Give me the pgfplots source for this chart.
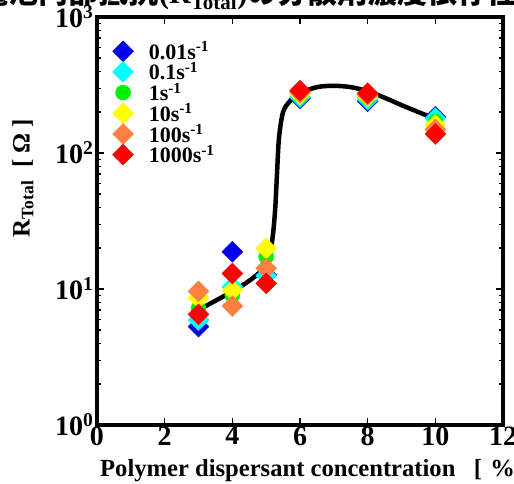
\documentclass[border=0pt]{standalone}
\usepackage{pgfplots}
\pgfplotsset{compat=1.18}
\usepackage{fontspec}
\setmainfont{Liberation Serif}
\newfontfamily\cjk{Noto Sans CJK JP}
\definecolor{cBlue}{RGB}{0,0,235}
\definecolor{cCyan}{RGB}{0,255,255}
\definecolor{cGreen}{RGB}{0,240,0}
\definecolor{cYellow}{RGB}{255,255,0}
\definecolor{cOrange}{RGB}{255,128,64}
\definecolor{cRed}{RGB}{255,0,0}
\begin{document}
\begin{tikzpicture}
\begin{axis}[
  at={(0,0)}, anchor=south west, scale only axis,
  width=406pt, height=408pt,
  xmin=0, xmax=12, ymode=log, ymin=1, ymax=1000,
  axis line style={line width=4.5pt},
  tick style={line width=1.2pt, black},
  major tick length=7pt, minor tick length=4pt,
  tick align=inside,
  xtick={0,2,4,6,8,10,12}, xticklabels={0,2,4,6,8,10,12},
  ytick={1,10,100,1000},
  yticklabels={10\textsuperscript{0},10\textsuperscript{1},10\textsuperscript{2},10\textsuperscript{3}},
  ticklabel style={font=\bfseries\fontsize{28}{28}\selectfont},
  xticklabel style={yshift=2pt},
  legend style={draw=none, fill=none, at={(axis description cs:0.03,0.95)}, anchor=north west,
    font=\bfseries\fontsize{22}{22}\selectfont, row sep=-2.5pt},
  legend cell align=left,
  legend image code/.code={\draw[#1] plot coordinates {(0pt,0pt)}; \path (-10.5pt,0pt) (23.5pt,0pt);},
]
\addplot[black, line width=4.5pt, smooth, tension=0.5, forget plot] coordinates {
 (3,7.0) (3.5,8.2) (4,9.6) (4.5,11.5) (4.9,14) (5.1,18) (5.2,25) (5.27,40) (5.32,70)
 (5.38,130) (5.5,200) (5.7,240) (6,275) (6.5,305) (7,312) (7.5,305) (8,285) (8.5,255)
 (9,225) (9.5,200) (10,178)};
\addplot[cBlue, only marks, mark=square*, mark size=7.4pt, mark options={rotate=45, draw=cBlue, fill=cBlue}]
 coordinates {(3,5.3) (4,18.8) (5,12.7) (6,252) (8,240) (10,185)};
\addlegendentry{0.01s\textsuperscript{-1}}
\addplot[cCyan, only marks, mark=square*, mark size=7.4pt, mark options={rotate=45, draw=cCyan, fill=cCyan}]
 coordinates {(3,5.9) (4,10.4) (5,12.5) (6,258) (8,247) (10,180)};
\addlegendentry{0.1s\textsuperscript{-1}}
\addplot[cGreen, only marks, mark=*, mark size=7.5pt, mark options={draw=cGreen, fill=cGreen}]
 coordinates {(3,7.2) (4,9.0) (5,17.3) (6,265) (8,253) (10,170)};
\addlegendentry{1s\textsuperscript{-1}}
\addplot[cYellow, only marks, mark=square*, mark size=7.4pt, mark options={rotate=45, draw=cYellow, fill=cYellow}]
 coordinates {(3,8.6) (4,9.8) (5,19.9) (6,270) (8,260) (10,161)};
\addlegendentry{10s\textsuperscript{-1}}
\addplot[cOrange, only marks, mark=square*, mark size=7.4pt, mark options={rotate=45, draw=cOrange, fill=cOrange}]
 coordinates {(3,9.6) (4,7.5) (5,14.2) (6,278) (8,267) (10,149)};
\addlegendentry{100s\textsuperscript{-1}}
\addplot[cRed, only marks, mark=square*, mark size=7.4pt, mark options={rotate=45, draw=cRed, fill=cRed}]
 coordinates {(3,6.5) (4,13.0) (5,11.0) (6,287) (8,275) (10,138)};
\addlegendentry{1000s\textsuperscript{-1}}
\end{axis}
\node[anchor=base east, font=\cjk\bfseries\fontsize{30}{30}\selectfont, inner sep=0pt] at (62pt,421pt) {電池内部抵抗};
\node[anchor=base west, font=\bfseries\fontsize{30}{30}\selectfont, inner sep=0pt] at (62pt,421pt) {(R\textsubscript{Total}){\cjk の分散剤濃度依存性}};
\node[anchor=base west, font=\bfseries\fontsize{24.6}{24.6}\selectfont, inner sep=0pt] at (3pt,-51pt) {Polymer dispersant concentration~~~[\,\,\%~]};
\node[rotate=90, font=\bfseries\fontsize{25}{25}\selectfont, inner sep=0pt] at (-74pt,247pt) {R\textsubscript{Total}~~[ Ω~]};
\pgfresetboundingbox
\useasboundingbox (-97pt,-58pt) rectangle (417pt,425pt);
\end{tikzpicture}
\end{document}
